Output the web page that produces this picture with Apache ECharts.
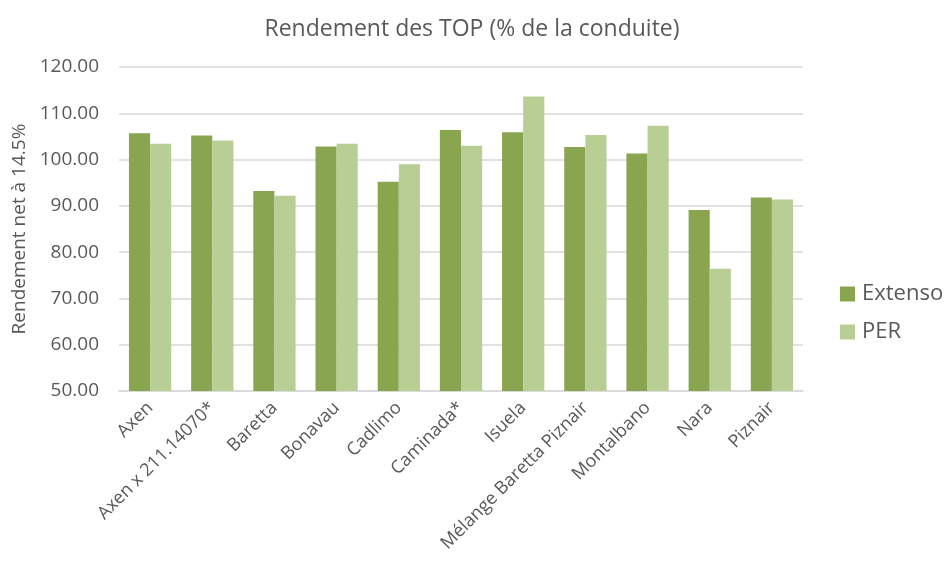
<!DOCTYPE html>
<html><head><meta charset="utf-8">
<script src="https://cdn.jsdelivr.net/npm/echarts@6/dist/echarts.min.js"></script>
<style>html,body{margin:0;padding:0;background:#fff}#c{width:944px;height:565px}</style>
</head><body><div id="c"></div>
<script>
const categories = ["Axen","Axen x 211.14070*","Baretta","Bonavau","Cadlimo","Caminada*","Isuela","Mélange Baretta Piznair","Montalbano","Nara","Piznair"];
const extenso = [105.7,105.2,93.2,102.8,95.2,106.4,105.9,102.7,101.3,89.1,91.8];
const per = [103.4,104.1,92.2,103.4,99.0,103.0,113.6,105.3,107.3,76.4,91.4];
const yTicks = {min:50,max:120,interval:10};
const font = "'Open Sans', 'Noto Sans', sans-serif";
const chart = echarts.init(document.getElementById('c'), null, {renderer:'canvas'});
chart.setOption({
  animation:false,
  title:{text:"Rendement des TOP (% de la conduite)",left:'center',top:13,
    textStyle:{fontFamily:font,fontSize:23,fontWeight:'normal',color:'#595959'}},
  grid:{left:119,right:141,top:67,bottom:174,containLabel:false,outerBoundsMode:'none'},
  legend:{orient:'vertical',left:835,top:278,itemGap:16,itemWidth:15,itemHeight:15,icon:'rect',
    textStyle:{fontFamily:font,fontSize:22,color:'#595959',padding:[0,0,0,2]},
    data:['Extenso','PER']},
  xAxis:{type:'category',data:categories,
    axisLine:{lineStyle:{color:'#D9D9D9',width:1.5}},axisTick:{show:false},
    axisLabel:{rotate:45,interval:0,fontFamily:font,fontSize:18,color:'#595959',margin:14}},
  yAxis:{type:'value',min:yTicks.min,max:yTicks.max,interval:yTicks.interval,
    name:'Rendement net à 14.5%',nameLocation:'middle',nameGap:87,
    nameTextStyle:{fontFamily:font,fontSize:19,color:'#595959'},
    axisLine:{show:false},axisTick:{show:false},
    splitLine:{lineStyle:{color:'#D9D9D9',width:1.5}},
    axisLabel:{formatter:v=>v.toFixed(2),fontFamily:font,fontSize:19,color:'#595959',margin:20}},
  series:[
    {name:'Extenso',type:'bar',data:extenso,barGap:'0%',barCategoryGap:'32%',itemStyle:{color:'#8AA54F'}},
    {name:'PER',type:'bar',data:per,barGap:'0%',barCategoryGap:'32%',itemStyle:{color:'#B9CE95'}}
  ]
});
</script></body></html>
